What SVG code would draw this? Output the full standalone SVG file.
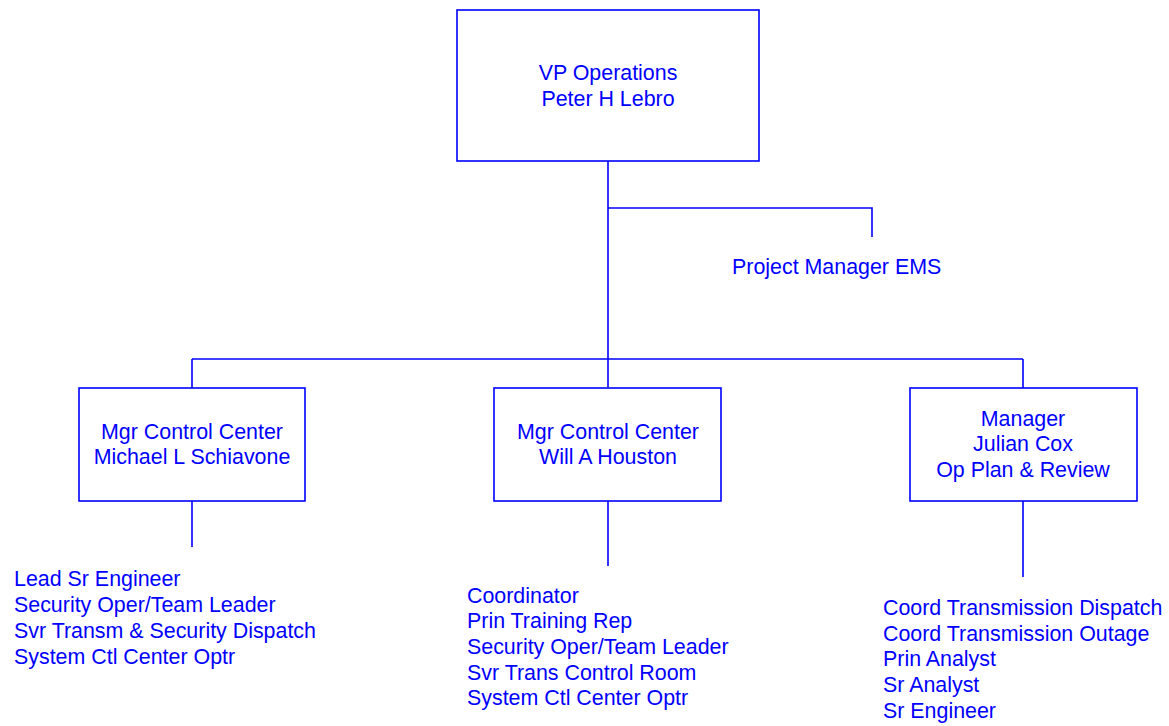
<svg xmlns="http://www.w3.org/2000/svg" width="1169" height="726" viewBox="0 0 1169 726">
<style>
.box{fill:#fff;stroke:#0000ff;stroke-width:1.6}
.ln{fill:none;stroke:#0000ff;stroke-width:1.6}
text{font-family:"Liberation Sans",Arial,sans-serif;font-size:21.4px;fill:#0000ff}
.c{text-anchor:middle}
</style>
<rect width="1169" height="726" fill="#fff"/>
<g id="connectors">
<path class="ln" d="M608 161V387M608 208H872V237M192 359H1023M192 359V388M1023 359V388M192 501V547M608 501V566M1023 501V577"/>
</g>
<g id="vp">
<rect class="box" x="457" y="10" width="302" height="151"/>
<text class="c" x="608" y="80">VP Operations</text>
<text class="c" x="608" y="106">Peter H Lebro</text>
</g>
<g id="pm">
<text x="732" y="274">Project Manager EMS</text>
</g>
<g id="mgr1">
<rect class="box" x="79" y="388" width="226" height="113"/>
<text class="c" x="192" y="439">Mgr Control Center</text>
<text class="c" x="192" y="464">Michael L Schiavone</text>
</g>
<g id="mgr2">
<rect class="box" x="494" y="388" width="227" height="113"/>
<text class="c" x="608" y="439">Mgr Control Center</text>
<text class="c" x="608" y="464">Will A Houston</text>
</g>
<g id="mgr3">
<rect class="box" x="910" y="388" width="227" height="113"/>
<text class="c" x="1023" y="426">Manager</text>
<text class="c" x="1023" y="451">Julian Cox</text>
<text class="c" x="1023" y="477">Op Plan &amp; Review</text>
</g>
<g id="list1">
<text x="14" y="586">Lead Sr Engineer</text>
<text x="14" y="612">Security Oper/Team Leader</text>
<text x="14" y="638">Svr Transm &amp; Security Dispatch</text>
<text x="14" y="664">System Ctl Center Optr</text>
</g>
<g id="list2">
<text x="467" y="603">Coordinator</text>
<text x="467" y="628">Prin Training Rep</text>
<text x="467" y="654">Security Oper/Team Leader</text>
<text x="467" y="680">Svr Trans Control Room</text>
<text x="467" y="705">System Ctl Center Optr</text>
</g>
<g id="list3">
<text x="883" y="615">Coord Transmission Dispatch</text>
<text x="883" y="641">Coord Transmission Outage</text>
<text x="883" y="666">Prin Analyst</text>
<text x="883" y="692">Sr Analyst</text>
<text x="883" y="718">Sr Engineer</text>
</g>
</svg>
